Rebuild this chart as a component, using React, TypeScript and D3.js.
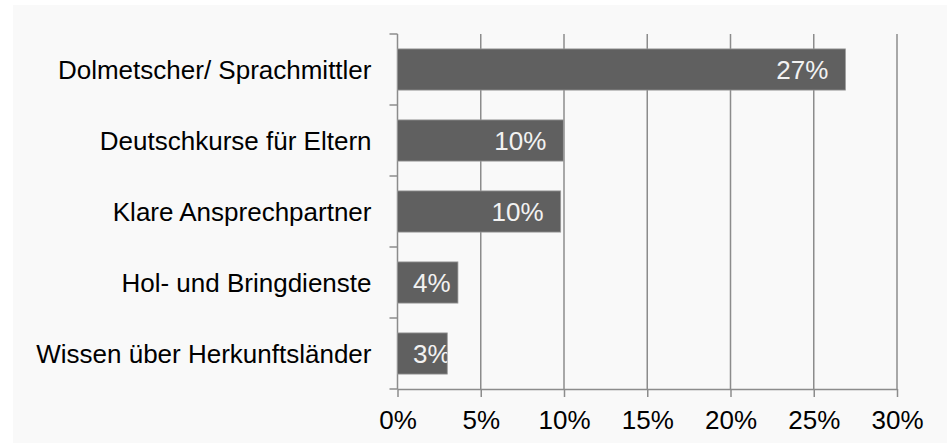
import React, { useEffect, useRef } from "react";
import * as d3 from "d3";

const categories = [
  "Dolmetscher/ Sprachmittler",
  "Deutschkurse für Eltern",
  "Klare Ansprechpartner",
  "Hol- und Bringdienste",
  "Wissen über Herkunftsländer",
];
const shares = [26.9, 9.96, 9.8, 3.63, 2.99];
const shareLabels = ["27%", "10%", "10%", "4%", "3%"];
const xTicks = [0, 5, 10, 15, 20, 25, 30];

export default function App() {
  const svgRef = useRef<SVGSVGElement>(null);

  useEffect(() => {
    const width = 947;
    const height = 443;
    const margin = { top: 34, right: 50, bottom: 54, left: 397.5 };
    const font = "Arial, 'Liberation Sans', sans-serif";
    const gridColor = "#8c8c8c";

    const svg = d3.select(svgRef.current).attr("width", width).attr("height", height);
    svg.selectAll("*").remove();

    svg
      .append("rect")
      .attr("x", 13)
      .attr("y", 5)
      .attr("width", width - 13)
      .attr("height", height - 5)
      .attr("fill", "#f9f9f9");

    const xScale = d3
      .scaleLinear()
      .domain([0, 30])
      .range([margin.left, width - margin.right]);

    const yScale = d3
      .scaleBand()
      .domain(categories)
      .range([margin.top, height - margin.bottom])
      .paddingInner(0.42)
      .paddingOuter(0.21);

    const bottom = height - margin.bottom;

    // vertical gridlines
    svg
      .append("g")
      .selectAll("line")
      .data(xTicks.slice(1))
      .join("line")
      .attr("x1", (d) => xScale(d))
      .attr("x2", (d) => xScale(d))
      .attr("y1", margin.top)
      .attr("y2", bottom)
      .attr("stroke", gridColor)
      .attr("stroke-width", 1.5);

    // x axis
    const xAxis = svg
      .append("g")
      .attr("transform", `translate(0, ${bottom})`)
      .call(
        d3
          .axisBottom(xScale)
          .tickValues(xTicks)
          .tickFormat((d) => `${d}%`)
          .tickSize(8)
          .tickSizeOuter(0)
          .tickPadding(14)
      );
    xAxis.select(".domain").attr("stroke", gridColor).attr("stroke-width", 1.5);
    xAxis.selectAll(".tick line").attr("stroke", gridColor).attr("stroke-width", 1.5);
    xAxis
      .selectAll(".tick text")
      .attr("fill", "#000")
      .style("font-family", font)
      .style("font-size", "26px");

    // y axis with ticks at band boundaries
    const step = yScale.step();
    const boundaries = d3.range(categories.length + 1).map((i) => margin.top + i * step);
    svg
      .append("line")
      .attr("x1", margin.left)
      .attr("x2", margin.left)
      .attr("y1", margin.top)
      .attr("y2", bottom)
      .attr("stroke", gridColor)
      .attr("stroke-width", 1.5);
    svg
      .append("g")
      .selectAll("line")
      .data(boundaries)
      .join("line")
      .attr("x1", margin.left - 8)
      .attr("x2", margin.left)
      .attr("y1", (d) => d)
      .attr("y2", (d) => d)
      .attr("stroke", gridColor)
      .attr("stroke-width", 1.5);

    svg
      .append("g")
      .selectAll("text")
      .data(categories)
      .join("text")
      .attr("x", margin.left - 26)
      .attr("y", (d) => yScale(d)! + yScale.bandwidth() / 2)
      .attr("dy", "0.36em")
      .attr("text-anchor", "end")
      .attr("fill", "#000")
      .style("font-family", font)
      .style("font-size", "26px")
      .text((d) => d);

    // bars
    const defs = svg.append("defs");
    categories.forEach((c, i) => {
      defs
        .append("clipPath")
        .attr("id", `bar-clip-${i}`)
        .append("rect")
        .attr("x", xScale(0))
        .attr("y", yScale(c)!)
        .attr("width", xScale(shares[i]) - xScale(0))
        .attr("height", yScale.bandwidth());
    });

    svg
      .append("g")
      .selectAll("rect")
      .data(categories)
      .join("rect")
      .attr("x", xScale(0))
      .attr("y", (d) => yScale(d)!)
      .attr("width", (d, i) => xScale(shares[i]) - xScale(0))
      .attr("height", yScale.bandwidth())
      .attr("fill", "#606060")
      .attr("stroke", "#9a9a9a")
      .attr("stroke-width", 0.8);

    const labels = svg
      .append("g")
      .selectAll("text")
      .data(categories)
      .join("text")
      .attr("clip-path", (d, i) => `url(#bar-clip-${i})`)
      .attr("y", (d) => yScale(d)! + yScale.bandwidth() / 2)
      .attr("dy", "0.36em")
      .attr("fill", "#f2f2f2")
      .style("font-family", font)
      .style("font-size", "26px")
      .text((d, i) => shareLabels[i]);

    labels.each(function (d, i) {
      const node = this as SVGTextElement;
      const w = node.getComputedTextLength();
      const x = Math.max(xScale(shares[i]) - 17 - w, xScale(0) + 15.5);
      d3.select(node).attr("x", x);
    });
  }, []);

  return (
    <div>
      <svg ref={svgRef} style={{ position: "absolute", left: 0, top: 0, display: "block" }}></svg>
    </div>
  );
}
